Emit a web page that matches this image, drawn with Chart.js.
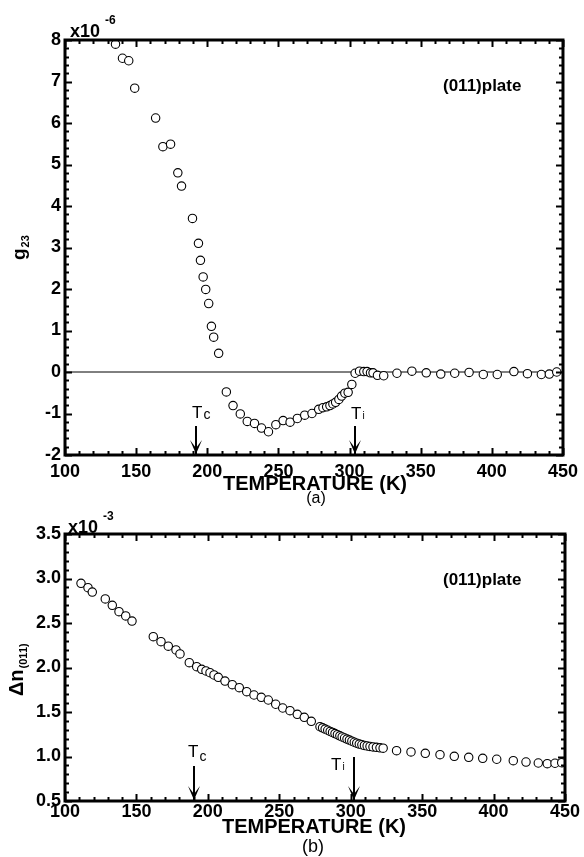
<!DOCTYPE html>
<html>
<head>
<meta charset="utf-8">
<script src="https://cdn.jsdelivr.net/npm/chart.js@4.4.1/dist/chart.umd.min.js"></script>
<style>
  body { margin: 0; background: #fff; width: 584px; height: 857px; overflow: hidden; position: relative; }
  canvas { position: absolute; left: 0; }
  #chartA { top: 0; }
  #chartB { top: 500px; }
</style>
</head>
<body>
<canvas id="chartB" width="584" height="357"></canvas>
<canvas id="chartA" width="584" height="512"></canvas>
<script>
// (a) g23 (x10^-6) vs temperature
const tempA = [135.5, 140.4, 144.8, 149.0, 163.7, 168.8, 174.2, 179.3, 181.9, 189.6,
  193.8, 195.2, 197.1, 198.9, 201.0, 202.9, 204.5, 208.0, 213.4, 218.1,
  223.2, 228.1, 233.2, 238.1, 243.0, 248.2, 253.3, 258.2, 263.3, 268.5,
  273.6, 278.3, 281.3, 283.9, 286.2, 288.3, 290.2, 292.5, 294.4, 296.7,
  299.0, 301.6, 303.9, 307.0, 310.0, 312.3, 314.7, 316.5, 319.6, 324.0,
  333.3, 343.8, 353.9, 364.1, 373.9, 384.0, 394.0, 403.8, 415.5, 425.0,
  434.8, 440.4, 445.6];
const g23 = [7.90, 7.56, 7.50, 6.84, 6.12, 5.43, 5.49, 4.80, 4.48, 3.70,
  3.10, 2.69, 2.29, 1.99, 1.65, 1.10, 0.84, 0.45, -0.48, -0.81,
  -1.01, -1.19, -1.24, -1.35, -1.44, -1.27, -1.17, -1.21, -1.12, -1.04,
  -1.00, -0.90, -0.86, -0.84, -0.81, -0.77, -0.73, -0.66, -0.58, -0.51,
  -0.49, -0.30, -0.03, 0.02, 0.01, 0.01, -0.02, -0.02, -0.08, -0.09,
  -0.03, 0.02, -0.02, -0.05, -0.03, -0.01, -0.06, -0.06, 0.01, -0.04,
  -0.06, -0.05, 0.00];

// (b) birefringence dn(011) (x10^-3) vs temperature
const tempB = [111.2, 116.1, 119.1,
  128.2, 133.1, 137.8, 142.5, 146.9,
  161.8, 167.2, 172.3, 177.7, 180.5,
  187.0, 192.2, 195.7, 198.7, 201.5, 204.3, 207.3, 212.0, 217.1, 222.0,
  227.2, 232.3, 237.4, 242.3, 247.5, 252.4, 257.5, 262.6, 267.5, 272.4,
  278.5, 280.3, 282.1, 283.9, 285.6, 287.3, 289.0, 290.7, 292.4, 294.0,
  295.7, 297.4, 299.1, 300.8, 302.5, 304.2, 306.0, 307.8, 309.6, 311.5,
  313.5, 315.6, 318.0, 320.5, 322.7,
  332.1, 342.2, 352.2, 362.5, 372.5, 382.6, 392.4, 402.2, 413.8, 422.7,
  431.3, 437.6, 443.0, 447.7];
const dnB = [2.946, 2.897, 2.848,
  2.770, 2.699, 2.627, 2.579, 2.522,
  2.346, 2.290, 2.240, 2.197, 2.152,
  2.054, 2.009, 1.980, 1.961, 1.942, 1.916, 1.890, 1.848, 1.807, 1.773,
  1.728, 1.691, 1.665, 1.635, 1.587, 1.545, 1.515, 1.474, 1.440, 1.395,
  1.335, 1.322, 1.308, 1.295, 1.282, 1.270, 1.258, 1.245, 1.232, 1.220,
  1.208, 1.196, 1.184, 1.172, 1.160, 1.150, 1.140, 1.132, 1.125, 1.119,
  1.113, 1.108, 1.103, 1.098, 1.093,
  1.065, 1.051, 1.036, 1.020, 1.002, 0.991, 0.980, 0.969, 0.953, 0.938,
  0.927, 0.919, 0.924, 0.930];

const tempTicks = [100, 150, 200, 250, 300, 350, 400, 450];
const g23Ticks = [-2, -1, 0, 1, 2, 3, 4, 5, 6, 7, 8];
const dnTicks = [0.5, 1.0, 1.5, 2.0, 2.5, 3.0, 3.5];
const zeroLine = [100, 450];
const arrowsA = [192.4, 304.0];   // Tc, Ti
const arrowsB = [190.5, 302.0];

const FONT = '"Liberation Sans", Arial, Helvetica, sans-serif';

// cadre épais + graduations vers l'intérieur sur les 4 côtés
const frameTicks = {
  id: 'frameTicks',
  afterDatasetsDraw(chart, args, opts) {
    const { ctx, chartArea: a, scales: { x, y } } = chart;
    ctx.save();
    ctx.strokeStyle = '#000';
    ctx.lineWidth = 2;
    ctx.beginPath();
    const nx = Math.round((x.max - x.min) / opts.xStep);
    for (let i = 0; i <= nx; i++) {
      const px = Math.round(x.getPixelForValue(x.min + i * opts.xStep)) + 0.5;
      const len = i % opts.xEvery === 0 ? 7 : 4;
      ctx.moveTo(px, a.bottom); ctx.lineTo(px, a.bottom - len);
      ctx.moveTo(px, a.top); ctx.lineTo(px, a.top + len);
    }
    const ny = Math.round((y.max - y.min) / opts.yStep);
    for (let i = 0; i <= ny; i++) {
      const py = Math.round(y.getPixelForValue(y.min + i * opts.yStep)) + 0.5;
      const len = i % opts.yEvery === 0 ? 7 : 4;
      ctx.moveTo(a.left, py); ctx.lineTo(a.left + len, py);
      ctx.moveTo(a.right, py); ctx.lineTo(a.right - len, py);
    }
    ctx.stroke();
    ctx.lineWidth = 3;
    ctx.strokeRect(a.left, a.top, a.right - a.left, a.bottom - a.top);
    ctx.restore();
  }
};

function subText(ctx, base, sub, x, y, bFont, sFont, dy) {
  ctx.font = bFont;
  ctx.fillText(base, x, y);
  const w = ctx.measureText(base).width;
  ctx.font = sFont;
  ctx.fillText(sub, x + w + 1, y + dy);
}

function arrow(ctx, px, y0, y1) {
  ctx.save();
  ctx.strokeStyle = '#000';
  ctx.fillStyle = '#000';
  ctx.lineWidth = 2;
  ctx.beginPath();
  ctx.moveTo(px, y0); ctx.lineTo(px, y1);
  ctx.stroke();
  ctx.beginPath();
  ctx.moveTo(px - 6, y1 - 14);
  ctx.lineTo(px, y1);
  ctx.lineTo(px + 6, y1 - 14);
  ctx.lineTo(px, y1 - 6);
  ctx.closePath();
  ctx.fill();
  ctx.restore();
}

const labelsA = {
  id: 'labelsA',
  afterDraw(chart) {
    const { ctx, scales: { x } } = chart;
    ctx.save();
    ctx.fillStyle = '#000';
    ctx.textBaseline = 'alphabetic';
    // x10^-6
    ctx.font = 'bold 18px ' + FONT;
    ctx.fillText('x10', 70, 37);
    ctx.font = 'bold 12px ' + FONT;
    ctx.fillText('-6', 105, 24);
    // (011)plate
    ctx.font = 'bold 17px ' + FONT;
    ctx.fillText('(011)plate', 443, 91);
    // Tc / Ti
    subText(ctx, 'T', 'c', 192, 418, '17px ' + FONT, '14px ' + FONT, 1);
    subText(ctx, 'T', 'i', 351, 419, '17px ' + FONT, '10px ' + FONT, 0);
    arrow(ctx, Math.round(x.getPixelForValue(arrowsA[0])), 426, 454);
    arrow(ctx, Math.round(x.getPixelForValue(arrowsA[1])), 426, 454);
    // titres
    ctx.textAlign = 'center';
    ctx.font = 'bold 20px ' + FONT;
    ctx.fillText('TEMPERATURE (K)', 315, 490);
    ctx.font = '16px ' + FONT;
    ctx.fillText('(a)', 316, 503);
    // g23 vertical
    ctx.textAlign = 'left';
    ctx.translate(25, 260);
    ctx.rotate(-Math.PI / 2);
    subText(ctx, 'g', '23', 0, 0, 'bold 19px ' + FONT, 'bold 11px ' + FONT, 4);
    ctx.restore();
  }
};

const labelsB = {
  id: 'labelsB',
  afterDraw(chart) {
    const { ctx, scales: { x } } = chart;
    ctx.save();
    ctx.fillStyle = '#000';
    ctx.font = 'bold 18px ' + FONT;
    ctx.fillText('x10', 68, 33);
    ctx.font = 'bold 12px ' + FONT;
    ctx.fillText('-3', 103, 20);
    ctx.font = 'bold 17px ' + FONT;
    ctx.fillText('(011)plate', 443, 85);
    subText(ctx, 'T', 'c', 188, 257, '17px ' + FONT, '14px ' + FONT, 4);
    subText(ctx, 'T', 'i', 331, 270, '17px ' + FONT, '10px ' + FONT, 0);
    arrow(ctx, Math.round(x.getPixelForValue(arrowsB[0])), 266, 300);
    arrow(ctx, Math.round(x.getPixelForValue(arrowsB[1])), 257, 300);
    ctx.textAlign = 'center';
    ctx.font = 'bold 20px ' + FONT;
    ctx.fillText('TEMPERATURE (K)', 314, 333);
    ctx.font = '18px ' + FONT;
    ctx.fillText('(b)', 313, 352);
    ctx.textAlign = 'left';
    ctx.translate(23, 196);
    ctx.rotate(-Math.PI / 2);
    subText(ctx, '\u0394n', '(011)', 0, 0, 'bold 20px ' + FONT, 'bold 11px ' + FONT, 4);
    ctx.restore();
  }
};

function makeChart(id, temps, vals, yTicks, yMin, yMax, padTop, xHeight, decor, extra, tickPad, fmt) {
  const points = temps.map((t, i) => ({ x: t, y: vals[i] }));
  const datasets = [{
    data: points,
    pointStyle: 'circle',
    pointRadius: 4.2,
    borderWidth: 1.1,
    borderColor: '#000',
    backgroundColor: '#fff',
    order: 1
  }];
  if (extra) datasets.push(extra);
  return new Chart(document.getElementById(id), {
    type: 'scatter',
    data: { datasets },
    options: {
      responsive: false,
      animation: false,
      devicePixelRatio: 1,
      layout: { padding: { top: padTop, right: 19, left: 0, bottom: 0 } },
      plugins: { legend: { display: false }, tooltip: { enabled: false }, frameTicks: decor },
      scales: {
        x: {
          type: 'linear', min: 100, max: 450,
          afterBuildTicks: s => { s.ticks = tempTicks.map(v => ({ value: v })); },
          afterFit: s => { s.height = xHeight; },
          grid: { display: false, drawTicks: false },
          border: { display: false },
          ticks: { color: '#000', padding: tickPad, font: { family: FONT, size: 18, weight: 'bold' }, maxRotation: 0 }
        },
        y: {
          type: 'linear', min: yMin, max: yMax,
          afterBuildTicks: s => { s.ticks = yTicks.map(v => ({ value: v })); },
          afterFit: s => { s.width = 65; },
          grid: { display: false, drawTicks: false },
          border: { display: false },
          ticks: { color: '#000', padding: 4, font: { family: FONT, size: 18, weight: 'bold' }, callback: fmt }
        }
      }
    },
    plugins: [frameTicks, decor.labels]
  });
}

makeChart('chartA', tempA, g23, g23Ticks, -2, 8, 40, 57,
  { xStep: 10, xEvery: 5, yStep: 0.2, yEvery: 5, labels: labelsA },
  {
    type: 'line', showLine: true,
    data: zeroLine.map(t => ({ x: t, y: 0 })),
    borderColor: '#000', borderWidth: 1, pointRadius: 0, order: 2
  }, 6, v => String(v));

makeChart('chartB', tempB, dnB, dnTicks, 0.5, 3.5, 34, 56,
  { xStep: 10, xEvery: 5, yStep: 0.1, yEvery: 5, labels: labelsB },
  null, 0, v => v.toFixed(1));
</script>
</body>
</html>
